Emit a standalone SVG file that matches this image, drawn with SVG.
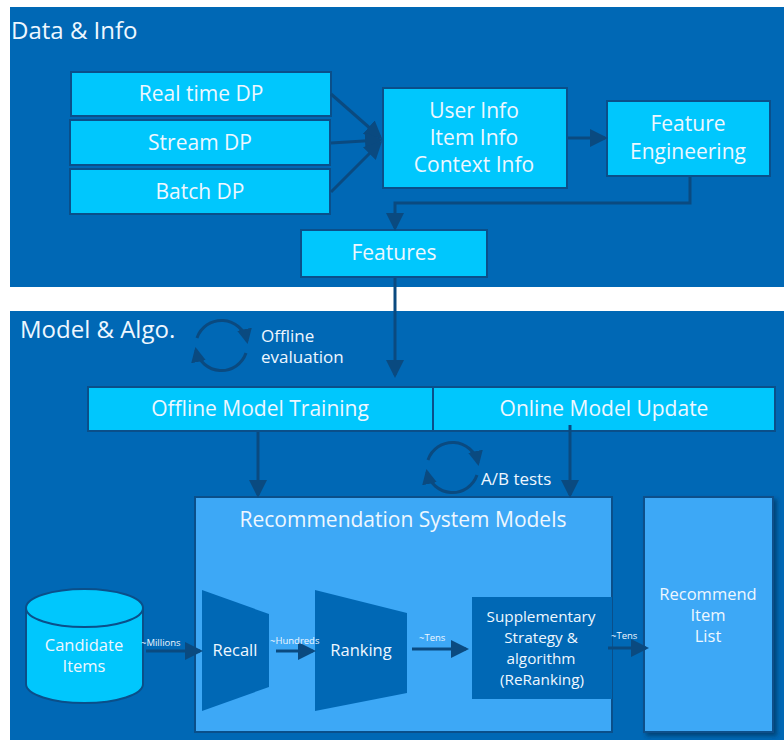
<svg xmlns="http://www.w3.org/2000/svg" width="784" height="740" viewBox="0 0 784 740">
  <defs>
    <marker id="arr" markerWidth="6" markerHeight="6" refX="5" refY="3" orient="auto" markerUnits="strokeWidth">
      <path d="M0,0 L6,3 L0,6 z" fill="#0a4a80"/>
    </marker>
    <marker id="arrSm" markerWidth="5" markerHeight="5" refX="4" refY="2.5" orient="auto" markerUnits="strokeWidth">
      <path d="M0,0 L5,2.5 L0,5 z" fill="#0a4a80"/>
    </marker>
    <filter id="shadow" x="-10%" y="-10%" width="130%" height="130%">
      <feDropShadow dx="3" dy="3" stdDeviation="2" flood-color="#002a50" flood-opacity="0.6"/>
    </filter>
  </defs>
  <style>
    text { font-family: "Open Sans", "Liberation Sans", sans-serif; fill: #eef7ff; }
    .panel { fill: #0068b5; }
    .box { fill: #00c7fd; stroke: #0a4f8a; stroke-width: 2; }
    .big { font-size: 21px; text-anchor: middle; }
    .title { font-size: 24px; }
    .mid { font-size: 16.5px; text-anchor: middle; }
    .small { font-size: 15.3px; text-anchor: middle; }
    .note { font-size: 17px; }
    .tiny { font-size: 9.5px; }
    .conn { stroke: #0a4a80; stroke-width: 3; fill: none; }
    .cyc { stroke: #0a4a80; stroke-width: 3; fill: none; }
  </style>

  <!-- Section backgrounds -->
  <rect class="panel" x="10" y="7" width="774" height="280"/>
  <text class="title" x="11" y="39">Data &amp; Info</text>
  <rect class="panel" x="10" y="311" width="774" height="429"/>
  <text class="title" x="20" y="338">Model &amp; Algo.</text>

  <!-- Data & Info nodes -->
  <g id="realtime-dp">
    <rect class="box" x="71" y="72" width="260" height="44"/>
    <text class="big" x="201" y="101">Real time DP</text>
  </g>
  <g id="stream-dp">
    <rect class="box" x="70" y="120" width="260" height="45"/>
    <text class="big" x="200" y="150">Stream DP</text>
  </g>
  <g id="batch-dp">
    <rect class="box" x="70" y="169" width="260" height="45"/>
    <text class="big" x="200" y="199">Batch DP</text>
  </g>
  <g id="info">
    <rect class="box" x="383" y="88" width="184" height="100"/>
    <text class="big" x="474" y="118">User Info</text>
    <text class="big" x="474" y="145">Item Info</text>
    <text class="big" x="474" y="172">Context Info</text>
  </g>
  <g id="feature-engineering">
    <rect class="box" x="607" y="101" width="163" height="75"/>
    <text class="big" x="688" y="131">Feature</text>
    <text class="big" x="688" y="159">Engineering</text>
  </g>
  <g id="features">
    <rect class="box" x="301" y="230" width="186" height="47"/>
    <text class="big" x="394" y="260">Features</text>
  </g>

  <!-- Offline evaluation loop -->
  <g id="offline-evaluation">
    <path class="cyc" d="M197,338 A26,26 0 0 1 247,341" marker-end="url(#arrSm)"/>
    <path class="cyc" d="M246,353 A26,26 0 0 1 196,350" marker-end="url(#arrSm)"/>
    <text class="note" x="261" y="342">Offline</text>
    <text class="note" x="261" y="363">evaluation</text>
  </g>

  <!-- Training / update -->
  <g id="offline-training">
    <rect class="box" x="88" y="387" width="345" height="44"/>
    <text class="big" x="260" y="416">Offline Model Training</text>
  </g>
  <g id="online-update">
    <rect class="box" x="433" y="387" width="342" height="44"/>
    <text class="big" x="604" y="416">Online Model Update</text>
  </g>

  <!-- A/B tests loop -->
  <g id="ab-tests">
    <path class="cyc" d="M428,460 A26,26 0 0 1 478,463" marker-end="url(#arrSm)"/>
    <path class="cyc" d="M477,475 A26,26 0 0 1 427,472" marker-end="url(#arrSm)"/>
    <text class="note" x="481" y="485">A/B tests</text>
  </g>

  <!-- Recommendation system container -->
  <g id="rec-system">
    <rect x="195" y="497" width="417" height="235" fill="#3da8f6" stroke="#0a4f8a" stroke-width="2"/>
    <text x="403" y="527" style="font-size:21px;text-anchor:middle">Recommendation System Models</text>
  </g>

  <g id="recommend-list">
    <rect x="644" y="497" width="129" height="235" fill="#3da8f6" stroke="#0a4f8a" stroke-width="2" filter="url(#shadow)"/>
    <text class="mid" x="708" y="600">Recommend</text>
    <text class="mid" x="708" y="621">Item</text>
    <text class="mid" x="708" y="642">List</text>
  </g>

  <g id="candidate-items">
    <path d="M26,608 L26,684 A58.5,19 0 0 0 143,684 L143,608" fill="#00c7fd" stroke="#0a4f8a" stroke-width="2"/>
    <ellipse cx="84.5" cy="608" rx="58.5" ry="19" fill="#00c7fd" stroke="#0a4f8a" stroke-width="2"/>
    <text class="mid" x="84" y="651">Candidate</text>
    <text class="mid" x="84" y="672">Items</text>
  </g>

  <g id="recall">
    <polygon points="202,590 269,614 269,687 202,711" fill="#0068b5"/>
    <text class="mid" x="235" y="656">Recall</text>
  </g>
  <g id="ranking">
    <polygon points="315,590 407,613 407,693 315,711" fill="#0068b5"/>
    <text class="mid" x="361" y="656">Ranking</text>
  </g>
  <g id="reranking">
    <rect x="472" y="597" width="140" height="102" fill="#0068b5"/>
    <text class="small" x="541" y="622">Supplementary</text>
    <text class="small" x="541" y="643">Strategy &amp;</text>
    <text class="small" x="541" y="664">algorithm</text>
    <text class="small" x="542" y="685">(ReRanking)</text>
  </g>

  <!-- Connectors -->
  <g id="connectors">
    <line class="conn" x1="331" y1="94" x2="380" y2="137" marker-end="url(#arr)"/>
    <line class="conn" x1="331" y1="143" x2="380" y2="140" marker-end="url(#arr)"/>
    <line class="conn" x1="331" y1="192" x2="380" y2="143" marker-end="url(#arr)"/>
    <line class="conn" x1="568" y1="138" x2="605" y2="138" marker-end="url(#arr)"/>
    <polyline class="conn" points="690,177 690,203 395,203 395,228" marker-end="url(#arr)"/>
    <line class="conn" x1="395" y1="278" x2="395" y2="375" marker-end="url(#arr)"/>
    <line class="conn" x1="258" y1="432" x2="258" y2="495" marker-end="url(#arr)"/>
    <line class="conn" x1="570" y1="425" x2="570" y2="495" marker-end="url(#arr)"/>
    <line class="conn" x1="146" y1="651" x2="200" y2="651" marker-end="url(#arr)"/>
    <line class="conn" x1="276" y1="651" x2="313" y2="651" marker-end="url(#arr)"/>
    <line class="conn" x1="412" y1="649" x2="466" y2="649" marker-end="url(#arr)"/>
    <line class="conn" x1="608" y1="648" x2="646" y2="648" marker-end="url(#arr)"/>
  </g>

  <!-- Flow volume labels -->
  <g id="volume-labels">
    <text class="tiny" x="141" y="646">~Millions</text>
    <text class="tiny" x="270" y="644">~Hundreds</text>
    <text class="tiny" x="419" y="641">~Tens</text>
    <text class="tiny" x="611" y="639">~Tens</text>
  </g>
</svg>
